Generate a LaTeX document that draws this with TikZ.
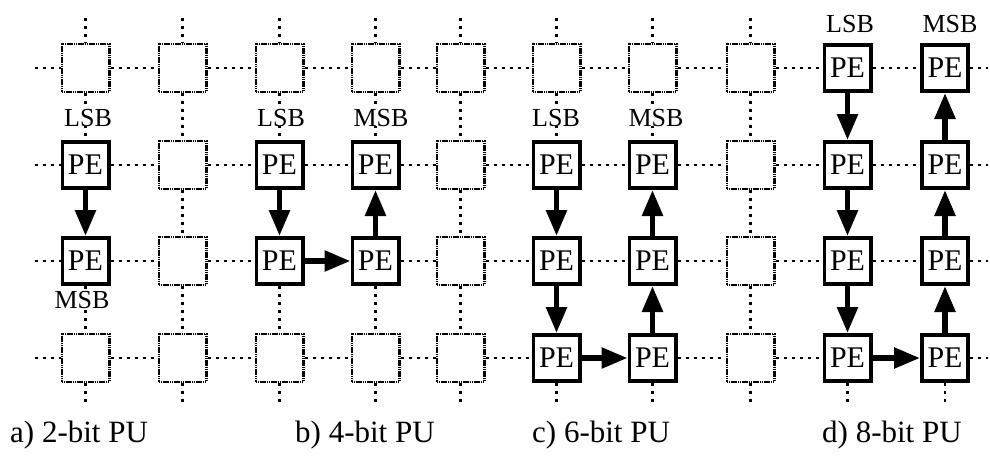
\documentclass[tikz,border=0pt]{standalone}
\usepackage{fontspec}
\setmainfont{Liberation Serif}
\usetikzlibrary{arrows.meta}
\begin{document}
\begin{tikzpicture}[x=1pt,y=-1pt,
 emptybox/.style={draw, line width=2.2pt, dash pattern=on 1.6pt off 0.6pt, minimum size=47.8pt, inner sep=0pt, fill=white},
 pebox/.style={draw, line width=3.6pt, minimum size=46.4pt, inner sep=0pt, fill=white, font=\fontsize{30}{30}\selectfont},
 link/.style={line width=2.6pt, dash pattern=on 3pt off 5pt},
 flow/.style={line width=5.5pt, -{Triangle[length=26pt,width=20pt]}},
 lbl/.style={font=\fontsize{26}{26}\selectfont, inner sep=0pt, fill=white, anchor=base},
 capt/.style={font=\fontsize{31}{31}\selectfont, inner sep=0pt, anchor=base west}]
\useasboundingbox (0,0) rectangle (990,456);
% PE cells
\foreach \c/\r in {1/2,1/3,3/2,3/3,4/2,4/3,6/2,6/3,6/4,7/2,7/3,7/4,9/1,9/2,9/3,9/4,10/1,10/2,10/3,10/4}
  {\global\expandafter\let\csname pe-\c-\r\endcsname\relax}
% links replaced by arrows
\foreach \k in {h-3-3,h-6-4,h-9-4,v-1-2,v-3-2,v-4-2,v-6-2,v-6-3,v-7-2,v-7-3,v-9-1,v-9-2,v-9-3,v-10-1,v-10-2,v-10-3}
  {\global\expandafter\let\csname arr-\k\endcsname\relax}
% grid of cells
\foreach \c/\x in {1/85.5,2/182.5,3/279.5,4/375.5,5/460.5,6/556.5,7/652.5,8/750.5,9/847.5,10/945}{
  \foreach \r/\y in {1/68,2/165,3/261,4/358}{
    \ifcsname pe-\c-\r\endcsname
      \node[pebox] (n-\c-\r) at (\x,\y) {PE};
    \else
      \node[emptybox] (n-\c-\r) at (\x,\y) {};
    \fi
  }
  \coordinate (t-\c) at (\x,18);
  \coordinate (b-\c) at (\x,405);
}
\foreach \r/\y in {1/68,2/165,3/261,4/358}{
  \coordinate (l-\r) at (35,\y);
  \coordinate (r-\r) at (988,\y);
}
% dotted links
\foreach \r in {1,2,3,4}{
  \draw[link] (l-\r) -- (n-1-\r.west);
  \draw[link] (n-10-\r.east) -- (r-\r);
  \foreach \c [evaluate=\c as \d using int(\c+1)] in {1,...,9}{
    \ifcsname arr-h-\c-\r\endcsname\else
      \draw[link] (n-\c-\r.east) -- (n-\d-\r.west);
    \fi
  }
}
\foreach \c in {1,...,10}{
  \draw[link] (n-\c-4.south) -- (b-\c);
  \ifnum\c<9 \draw[link] (t-\c) -- (n-\c-1.north); \fi
  \foreach \r [evaluate=\r as \s using int(\r+1)] in {1,2,3}{
    \ifcsname arr-v-\c-\r\endcsname\else
      \draw[link] (n-\c-\r.south) -- (n-\c-\s.north);
    \fi
  }
}
% arrows
\draw[flow] (n-1-2) -- (n-1-3);
\draw[flow] (n-3-2) -- (n-3-3);
\draw[flow] (n-3-3) -- (n-4-3);
\draw[flow] (n-4-3) -- (n-4-2);
\draw[flow] (n-6-2) -- (n-6-3);
\draw[flow] (n-6-3) -- (n-6-4);
\draw[flow] (n-6-4) -- (n-7-4);
\draw[flow] (n-7-4) -- (n-7-3);
\draw[flow] (n-7-3) -- (n-7-2);
\draw[flow] (n-9-1) -- (n-9-2);
\draw[flow] (n-9-2) -- (n-9-3);
\draw[flow] (n-9-3) -- (n-9-4);
\draw[flow] (n-9-4) -- (n-10-4);
\draw[flow] (n-10-4) -- (n-10-3);
\draw[flow] (n-10-3) -- (n-10-2);
\draw[flow] (n-10-2) -- (n-10-1);
% labels
\node[lbl] (la) at (88,126) {LSB};
\node[lbl] (ma) at (82,308) {MSB};
\node[lbl] (lb) at (281,126) {LSB};
\node[lbl] (mb) at (381,126) {MSB};
\node[lbl] (lc) at (556,126) {LSB};
\node[lbl] (mc) at (656,126) {MSB};
\node[lbl] (ld) at (850,32) {LSB};
\node[lbl] (md) at (950,32) {MSB};
% captions
\node[capt] (ca) at (10,442) {a) 2-bit PU};
\node[capt] (cb) at (295,442) {b) 4-bit PU};
\node[capt] (cc) at (532,442) {c) 6-bit PU};
\node[capt] (cd) at (822,442) {d) 8-bit PU};
\end{tikzpicture}
\end{document}
